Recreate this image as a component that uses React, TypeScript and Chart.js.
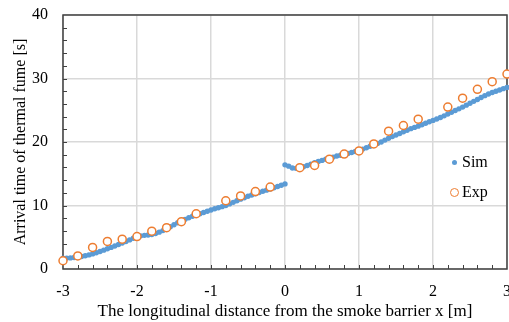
import React, { useEffect, useRef } from "react";
import { Chart, registerables } from "chart.js";

Chart.register(...registerables);

const SIM_STEP = 0.05;

// Simulation (dense samples), x from -3 to 0
const simLeftY = [
  1.7, 1.72, 1.75, 1.8, 1.88, 1.97, 2.08, 2.22, 2.38, 2.55,
  2.75, 2.97, 3.18, 3.4, 3.62, 3.85, 4.08, 4.33, 4.58, 4.85,
  5.08, 5.22, 5.3, 5.35, 5.42, 5.58, 5.8, 6.05, 6.32, 6.65,
  6.98, 7.28, 7.55, 7.82, 8.08, 8.3, 8.5, 8.7, 8.9, 9.1,
  9.3, 9.48, 9.65, 9.82, 10.0, 10.25, 10.5, 10.75, 11.0, 11.22,
  11.45, 11.65, 11.85, 12.05, 12.25, 12.42, 12.6, 12.8, 13.0, 13.2,
  13.4,
];

// Simulation, x from 0 to 3
const simRightY = [
  16.4, 16.2, 15.9, 15.85, 15.92, 16.1, 16.3, 16.52, 16.75, 16.92,
  17.1, 17.28, 17.45, 17.62, 17.8, 17.92, 18.05, 18.2, 18.35, 18.5,
  18.65, 18.88, 19.1, 19.32, 19.55, 19.78, 20.0, 20.3, 20.6, 20.85,
  21.1, 21.35, 21.6, 21.85, 22.1, 22.3, 22.5, 22.72, 22.95, 23.18,
  23.4, 23.62, 23.85, 24.12, 24.4, 24.68, 24.95, 25.22, 25.5, 25.8,
  26.1, 26.4, 26.7, 27.0, 27.3, 27.55, 27.8, 28.0, 28.2, 28.4,
  28.6,
];

const simLeftX = simLeftY.map((_, i) => -3 + i * SIM_STEP);
const simRightX = simRightY.map((_, i) => i * SIM_STEP);

// Experiment
const expX = [
  -3, -2.8, -2.6, -2.4, -2.2, -2.0, -1.8, -1.6, -1.4, -1.2,
  -0.8, -0.6, -0.4, -0.2, 0.2, 0.4, 0.6, 0.8, 1.0, 1.2,
  1.4, 1.6, 1.8, 2.2, 2.4, 2.6, 2.8, 3.0,
];
const expY = [
  1.3, 2.05, 3.4, 4.35, 4.7, 5.1, 5.95, 6.5, 7.45, 8.7,
  10.75, 11.5, 12.2, 12.9, 15.95, 16.3, 17.3, 18.1, 18.6, 19.7,
  21.7, 22.6, 23.6, 25.5, 26.9, 28.3, 29.5, 30.7,
];

const X_MIN = -3;
const X_MAX = 3;
const X_MINOR = 0.2;
const Y_MIN = 0;
const Y_MAX = 40;
const Y_MINOR = 2;

const seriesNames = ["Sim", "Exp"];
const xTitle = "The longitudinal distance from the smoke barrier x [m]";
const yTitle = "Arrival time of thermal fume [s]";

const FONT = "'Liberation Serif', 'Times New Roman', serif";
const SIM_COLOR = "#5B9BD5";
const EXP_COLOR = "#ED7D31";
const AXIS_COLOR = "#404040";

const framePlugin = {
  id: "frameAndMinorTicks",
  beforeDatasetsDraw(chart: any) {
    const { ctx, chartArea } = chart;
    const xs = chart.scales.x;
    const ys = chart.scales.y;
    ctx.save();
    ctx.strokeStyle = AXIS_COLOR;
    ctx.lineWidth = 1;
    ctx.beginPath();
    const nx = Math.round((X_MAX - X_MIN) / X_MINOR);
    for (let i = 1; i < nx; i++) {
      const px = Math.round(xs.getPixelForValue(X_MIN + i * X_MINOR)) + 0.5;
      ctx.moveTo(px, chartArea.bottom);
      ctx.lineTo(px, chartArea.bottom - 4);
    }
    const ny = Math.round((Y_MAX - Y_MIN) / Y_MINOR);
    for (let i = 1; i < ny; i++) {
      const py = Math.round(ys.getPixelForValue(Y_MIN + i * Y_MINOR)) + 0.5;
      ctx.moveTo(chartArea.left, py);
      ctx.lineTo(chartArea.left + 4, py);
    }
    ctx.stroke();
    ctx.lineWidth = 1.5;
    ctx.strokeRect(
      chartArea.left,
      chartArea.top,
      chartArea.right - chartArea.left,
      chartArea.bottom - chartArea.top
    );
    ctx.restore();
  },
};

export default function App() {
  const canvasRef = useRef<HTMLCanvasElement | null>(null);

  useEffect(() => {
    document.body.style.margin = "0";
    const canvas = canvasRef.current;
    if (!canvas) return;
    const simData = [
      ...simLeftX.map((x, i) => ({ x, y: simLeftY[i] })),
      ...simRightX.map((x, i) => ({ x, y: simRightY[i] })),
    ];
    const expData = expX.map((x, i) => ({ x, y: expY[i] }));

    const chart = new Chart(canvas, {
      type: "scatter",
      data: {
        datasets: [
          {
            label: seriesNames[1],
            data: expData,
            pointStyle: "circle",
            pointRadius: 4,
            pointBorderWidth: 1.5,
            pointBorderColor: EXP_COLOR,
            pointBackgroundColor: "#ffffff",
            clip: false,
            order: 1,
          },
          {
            label: seriesNames[0],
            data: simData,
            pointStyle: "circle",
            pointRadius: 2.7,
            pointBorderWidth: 0,
            pointBackgroundColor: SIM_COLOR,
            pointBorderColor: SIM_COLOR,
            clip: false,
            order: 2,
          },
        ],
      },
      options: {
        responsive: false,
        devicePixelRatio: 1,
        animation: false,
        layout: { autoPadding: false, padding: { top: 15, right: 2, left: 0, bottom: 0 } },
        plugins: {
          legend: { display: false },
          tooltip: { enabled: false },
        },
        scales: {
          x: {
            type: "linear",
            min: X_MIN,
            max: X_MAX,
            afterFit(scale: any) {
              scale.height = 53;
              scale.paddingLeft = 0;
              scale.paddingRight = 0;
            },
            ticks: {
              stepSize: 1,
              color: "#000",
              padding: 13,
              maxRotation: 0,
              font: { family: FONT, size: 16 },
            },
            grid: {
              color: "#d9d9d9",
              lineWidth: 1.5,
              drawTicks: false,
            },
            border: { display: false },
            title: {
              display: true,
              text: xTitle,
              color: "#000",
              font: { family: FONT, size: 17, lineHeight: 1.2 },
              padding: { top: 0, bottom: 0 },
            },
          },
          y: {
            type: "linear",
            min: Y_MIN,
            max: Y_MAX,
            afterFit(scale: any) {
              scale.width = 63;
              scale.paddingTop = 0;
              scale.paddingBottom = 0;
            },
            ticks: {
              stepSize: 10,
              color: "#000",
              padding: 15,
              font: { family: FONT, size: 16 },
            },
            grid: {
              color: "#d9d9d9",
              lineWidth: 1.5,
              drawTicks: false,
            },
            border: { display: false },
            title: {
              display: true,
              text: yTitle,
              color: "#000",
              font: { family: FONT, size: 16, lineHeight: 1.2 },
              padding: { top: 11, bottom: 0 },
            },
          },
        },
      },
      plugins: [framePlugin],
    });
    return () => chart.destroy();
  }, []);

  const textStyle: React.CSSProperties = {
    position: "absolute",
    left: 462,
    fontFamily: FONT,
    fontSize: 16,
    lineHeight: "20px",
    color: "#000",
    whiteSpace: "nowrap",
  };

  return (
    <div style={{ position: "relative", width: 509, height: 322, overflow: "hidden" }}>
      <canvas ref={canvasRef} width={509} height={322} style={{ display: "block" }} />
      <span
        style={{
          position: "absolute",
          left: 451.5,
          top: 159.5,
          width: 5,
          height: 5,
          borderRadius: "50%",
          background: SIM_COLOR,
        }}
      />
      <span style={{ ...textStyle, top: 152 }}>{seriesNames[0]}</span>
      <span
        style={{
          position: "absolute",
          left: 449.5,
          top: 187.5,
          width: 9,
          height: 9,
          boxSizing: "border-box",
          borderRadius: "50%",
          border: `1.5px solid ${EXP_COLOR}`,
          background: "#fff",
        }}
      />
      <span style={{ ...textStyle, top: 182 }}>{seriesNames[1]}</span>
    </div>
  );
}
